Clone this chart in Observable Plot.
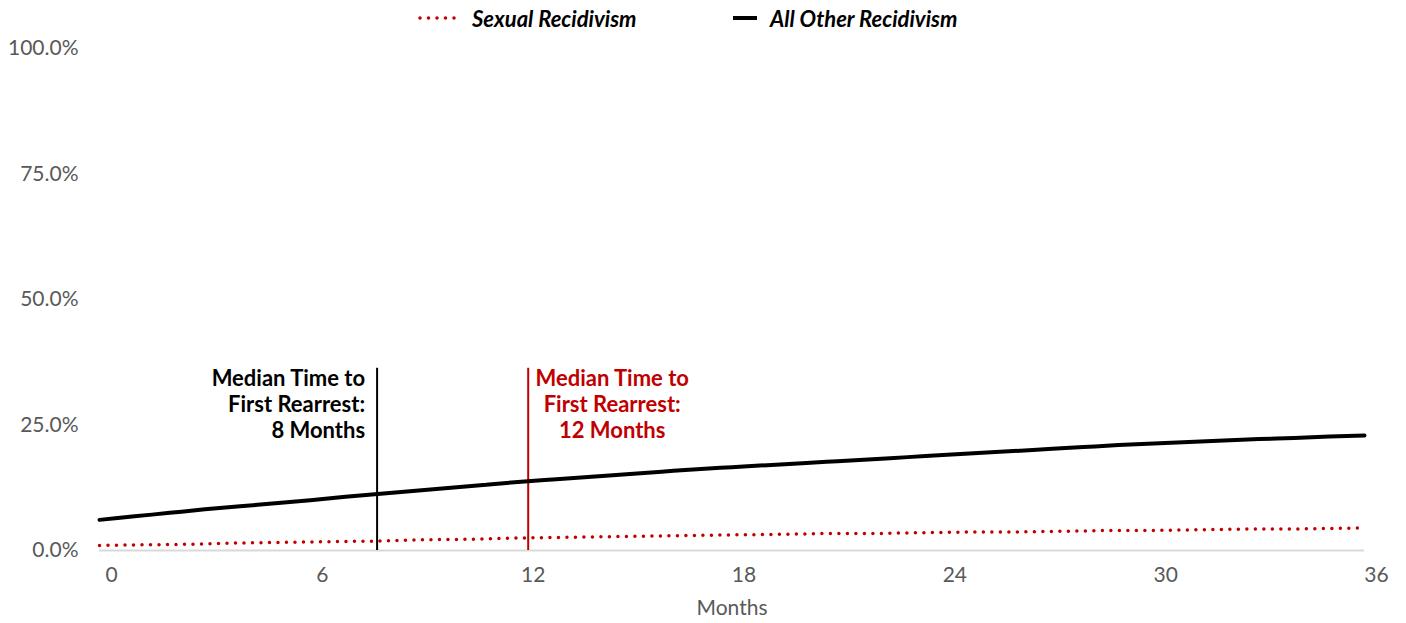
<!DOCTYPE html>
<html>
<head>
<meta charset="utf-8">
<script src="https://cdn.jsdelivr.net/npm/d3@7"></script>
<script src="https://cdn.jsdelivr.net/npm/@observablehq/plot@0.6"></script>
<style>
  html, body { margin: 0; padding: 0; background: #fff; }
  body { width: 1406px; height: 623px; position: relative; overflow: hidden; font-family: Lato, "Open Sans", sans-serif; }
  #legend { position: relative; height: 28px; width: 1406px; }
  #legend .item { position: absolute; top: 0; height: 36px; display: flex; align-items: center; font-weight: bold; font-style: italic; font-size: 22px; color: #000; }
  #legend svg { position: absolute; }
  #chart svg { overflow: visible; }
</style>
</head>
<body>
<div id="legend"></div>
<div id="chart"></div>
<script>
const months = d3.range(0, 37);
const sexualRecidivism = [1.0, 1.1, 1.2, 1.3, 1.5, 1.6, 1.7, 1.8, 1.9, 2.1, 2.2, 2.3, 2.5, 2.6, 2.7, 2.8, 2.9, 3.0, 3.1, 3.2, 3.3, 3.4, 3.4, 3.5, 3.6, 3.7, 3.7, 3.8, 3.9, 4.0, 4.0, 4.1, 4.2, 4.3, 4.3, 4.4, 4.5];
const otherRecidivism = [6.1, 6.8, 7.5, 8.2, 8.8, 9.4, 10.0, 10.7, 11.3, 11.9, 12.5, 13.1, 13.7, 14.2, 14.7, 15.2, 15.7, 16.2, 16.6, 17.0, 17.4, 17.8, 18.2, 18.6, 19.0, 19.4, 19.8, 20.2, 20.6, 21.0, 21.3, 21.6, 21.9, 22.2, 22.4, 22.7, 22.9];
const seriesNames = ["Sexual Recidivism", "All Other Recidivism"];
const yTicks = [0, 25, 50, 75, 100];
const xTicks = [0, 6, 12, 18, 24, 30, 36];
const medians = [
  {series: "All Other Recidivism", month: 7.9, top: 36.3, label: "Median Time to\nFirst Rearrest:\n8 Months"},
  {series: "Sexual Recidivism", month: 12.2, top: 36.3, label: "Median Time to\nFirst Rearrest:\n12 Months"}
];

const RED = "#c00000";
const GRAY = "#595959";

const sexData = months.map((m, i) => ({month: m, value: sexualRecidivism[i]}));
const otherData = months.map((m, i) => ({month: m, value: otherRecidivism[i]}));

// legend
const legend = document.getElementById("legend");
legend.innerHTML = `
  <svg style="left:417px;top:12px" width="42" height="12"><line x1="3" y1="6" x2="39" y2="6" stroke="${RED}" stroke-width="3.5" stroke-linecap="round" stroke-dasharray="0 8.5"/></svg>
  <div class="item" style="left:472px">${seriesNames[0]}</div>
  <svg style="left:733px;top:12px" width="26" height="12"><line x1="0" y1="6" x2="24" y2="6" stroke="#000" stroke-width="4"/></svg>
  <div class="item" style="left:770px">${seriesNames[1]}</div>
`;

const blackMed = medians.filter(d => d.series === "All Other Recidivism");
const redMed = medians.filter(d => d.series === "Sexual Recidivism");

const chart = Plot.plot({
  width: 1406,
  height: 595,
  marginTop: 20,
  marginBottom: 73,
  marginLeft: 99,
  marginRight: 42,
  style: {fontFamily: "Lato, 'Open Sans', sans-serif", fontSize: "21px", color: GRAY, background: "#fff", overflow: "visible"},
  x: {domain: [0, 36]},
  y: {domain: [0, 100]},
  marks: [
    Plot.axisY({ticks: yTicks, tickSize: 0, tickPadding: 21, tickFormat: d => d.toFixed(1) + "%", label: null, fill: GRAY, fontSize: 21}),
    Plot.axisX({ticks: xTicks, tickSize: 0, tickPadding: 17, dx: 12, label: null, fill: GRAY, fontSize: 21}),
    Plot.ruleY([0], {stroke: "#d9d9d9", strokeWidth: 2}),
    Plot.text(["Months"], {frameAnchor: "bottom", dy: 64, fill: GRAY, fontSize: 21}),
    Plot.ruleX(blackMed, {x: "month", y1: 0, y2: "top", stroke: "#000", strokeWidth: 2}),
    Plot.ruleX(redMed, {x: "month", y1: 0, y2: "top", stroke: RED, strokeWidth: 2}),
    Plot.text(blackMed, {x: "month", y: "top", text: "label", lineAnchor: "top", textAnchor: "end", dx: -12, dy: -1, fill: "#000", fontWeight: "bold", fontSize: 22, lineHeight: 1.18}),
    Plot.text(redMed, {x: "month", y: "top", text: "label", lineAnchor: "top", textAnchor: "middle", dx: 84, dy: -1, fill: RED, fontWeight: "bold", fontSize: 22, lineHeight: 1.18}),
    Plot.line(otherData, {x: "month", y: "value", stroke: "#000", strokeWidth: 4, curve: "monotone-x"}),
    Plot.line(sexData, {x: "month", y: "value", stroke: RED, strokeWidth: 3.5, strokeLinecap: "round", strokeDasharray: "0 8.5", curve: "monotone-x"})
  ]
});
document.getElementById("chart").appendChild(chart);
</script>
</body>
</html>
